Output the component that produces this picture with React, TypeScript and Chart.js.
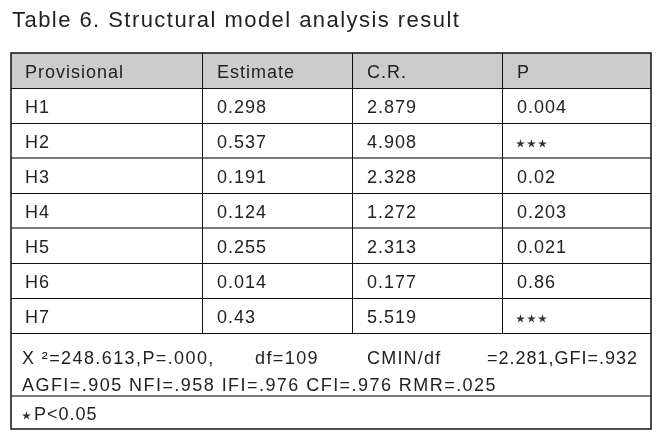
import React, { useEffect, useRef } from "react";
import { Chart, registerables } from "chart.js";

Chart.register(...registerables);

// ---------- data ----------
const titleText = "Table 6. Structural model analysis result";
const headers = ["Provisional", "Estimate", "C.R.", "P"];
const hypotheses = ["H1", "H2", "H3", "H4", "H5", "H6", "H7"];
const estimates = ["0.298", "0.537", "0.191", "0.124", "0.255", "0.014", "0.43"];
const crValues = ["2.879", "4.908", "2.328", "1.272", "2.313", "0.177", "5.519"];
const pValues = ["0.004", "⋆⋆⋆", "0.02", "0.203", "0.021", "0.86", "⋆⋆⋆"];
const fitLine1 = ["X ²=248.613,P=.000,", "df=109", "CMIN/df", "=2.281,GFI=.932"];
const fitLine2 = "AGFI=.905 NFI=.958 IFI=.976 CFI=.976 RMR=.025";
const footnote = "⋆P<0.05";

// ---------- layout (table units = px inside the table box) ----------
const TABLE_W = 640;
const TABLE_H = 376;
const colEdges = [0, 191, 341, 491, 640];
const ROW_H = 35;
const BODY_END = ROW_H * 8; // header + 7 rows
const FIT_END = BODY_END + 63;
const textInset = [14, 15, 15, 15];
const fitLine1X = [11, 244, 356, 476];
const fitLine1Spacing = [1.4, 1.4, 1.2, 1.0];
const grayLines = [3, 5]; // row boundary indices drawn gray
const TEXT = "#222222";
const FONT = '"Liberation Sans", Arial, sans-serif';
const STAR_FONT = '"DejaVu Sans", sans-serif';

type Cell = { x: number; y: number; text: string; align?: CanvasTextAlign; spacing?: number };

function buildCells(): Cell[] {
  const cells: Cell[] = [];
  headers.forEach((h, c) => cells.push({ x: colEdges[c] + textInset[c], y: ROW_H / 2, text: h }));
  const cols = [hypotheses, estimates, crValues, pValues];
  hypotheses.forEach((_, r) => {
    cols.forEach((col, c) => {
      cells.push({ x: colEdges[c] + textInset[c], y: ROW_H * (r + 1) + ROW_H / 2, text: col[r] });
    });
  });
  fitLine1.forEach((t, i) =>
    cells.push({ x: fitLine1X[i], y: BODY_END + 23.5, text: t, spacing: fitLine1Spacing[i] })
  );
  cells.push({ x: 11, y: BODY_END + 51, text: fitLine2, spacing: 1.45 });
  cells.push({ x: 12, y: FIT_END + 16.5, text: footnote });
  return cells;
}

function drawStarred(ctx: CanvasRenderingContext2D, text: string, x: number, cy: number) {
  let cx = x;
  for (const ch of text) {
    if (ch === "⋆") {
      ctx.font = `23px ${STAR_FONT}`;
      (ctx as any).letterSpacing = "0px";
      ctx.textBaseline = "alphabetic";
      ctx.textAlign = "center";
      ctx.fillStyle = "#333333";
      const m = ctx.measureText(ch);
      const asc = m.actualBoundingBoxAscent;
      const desc = m.actualBoundingBoxDescent;
      const base = cy + 2.5 + (asc - desc) / 2;
      ctx.fillText(ch, cx + 3.5, base);
      ctx.textAlign = "left";
      cx += 11;
    } else {
      ctx.font = `18px ${FONT}`;
      (ctx as any).letterSpacing = "1px";
      ctx.textBaseline = "alphabetic";
      ctx.fillStyle = TEXT;
      const w = ctx.measureText(ch).width;
      ctx.fillText(ch, cx, cy + 7);
      cx += w;
    }
  }
}

const tablePlugin = {
  id: "tablePlugin",
  beforeDraw(chart: any) {
    const { ctx, scales } = chart;
    const xs = scales.x;
    const ys = scales.y;
    const X = (v: number) => xs.getPixelForValue(v);
    const Y = (v: number) => ys.getPixelForValue(v);
    ctx.save();
    ctx.fillStyle = "#ffffff";
    ctx.fillRect(0, 0, chart.width, chart.height);

    // title
    ctx.fillStyle = TEXT;
    ctx.font = `22px ${FONT}`;
    (ctx as any).letterSpacing = "1.45px";
    ctx.textBaseline = "alphabetic";
    ctx.fillText(titleText, X(0) + 1, Y(0) - 26);

    // header background
    ctx.fillStyle = "#cccccc";
    ctx.fillRect(X(0), Y(0), X(TABLE_W) - X(0), Y(ROW_H) - Y(0));

    const hline = (yv: number, color: string, w: number) => {
      ctx.strokeStyle = color;
      ctx.lineWidth = w;
      const py = Math.round(Y(yv)) + (w % 2 ? 0.5 : 0);
      ctx.beginPath();
      ctx.moveTo(X(0), py);
      ctx.lineTo(X(TABLE_W), py);
      ctx.stroke();
    };
    for (let i = 1; i <= 8; i++) {
      if (grayLines.includes(i)) hline(ROW_H * i, "#7a7a7a", 2);
      else hline(ROW_H * i, "#111111", 1);
    }
    hline(FIT_END, "#7a7a7a", 2);

    // vertical inner lines
    ctx.strokeStyle = "#111111";
    ctx.lineWidth = 1;
    for (let c = 1; c < colEdges.length - 1; c++) {
      const px = Math.round(X(colEdges[c])) + 0.5;
      ctx.beginPath();
      ctx.moveTo(px, Y(0));
      ctx.lineTo(px, Y(BODY_END));
      ctx.stroke();
    }
    // outer border
    ctx.lineWidth = 1.5;
    ctx.strokeStyle = "#111111";
    ctx.strokeRect(X(0), Y(0), X(TABLE_W) - X(0), Y(TABLE_H) - Y(0));
    ctx.restore();
  },
  afterDatasetsDraw(chart: any) {
    const { ctx } = chart;
    const ds = chart.data.datasets[0];
    const meta = chart.getDatasetMeta(0);
    ctx.save();
    meta.data.forEach((el: any, i: number) => {
      const cell = ds.data[i] as Cell;
      const txt = cell.text;
      ctx.textAlign = "left";
      if (txt.includes("⋆")) {
        drawStarred(ctx, txt, el.x, el.y);
        return;
      }
      ctx.fillStyle = TEXT;
      ctx.font = `18px ${FONT}`;
      ctx.textBaseline = "alphabetic";
      (ctx as any).letterSpacing = `${cell.spacing ?? 1}px`;
      ctx.fillText(txt, el.x, el.y + 7);
    });
    ctx.restore();
  },
};

export default function App() {
  const ref = useRef<HTMLCanvasElement | null>(null);
  useEffect(() => {
    if (!ref.current) return;
    const chart = new Chart(ref.current, {
      type: "scatter",
      data: {
        datasets: [
          {
            data: buildCells() as any,
            pointRadius: 0,
            pointHoverRadius: 0,
          },
        ],
      },
      options: {
        animation: false,
        responsive: false,
        events: [],
        layout: { padding: { left: 11, top: 53, right: 20, bottom: 6 } },
        plugins: { legend: { display: false }, tooltip: { enabled: false }, title: { display: false } },
        scales: {
          x: { type: "linear", min: 0, max: TABLE_W, display: false },
          y: { type: "linear", min: 0, max: TABLE_H, reverse: true, display: false },
        },
      },
      plugins: [tablePlugin],
    });
    return () => chart.destroy();
  }, []);
  return (
    <div style={{ position: "absolute", left: 0, top: 0, width: 671, height: 435, background: "#fff" }}>
      <canvas ref={ref} width={671} height={435} />
    </div>
  );
}
